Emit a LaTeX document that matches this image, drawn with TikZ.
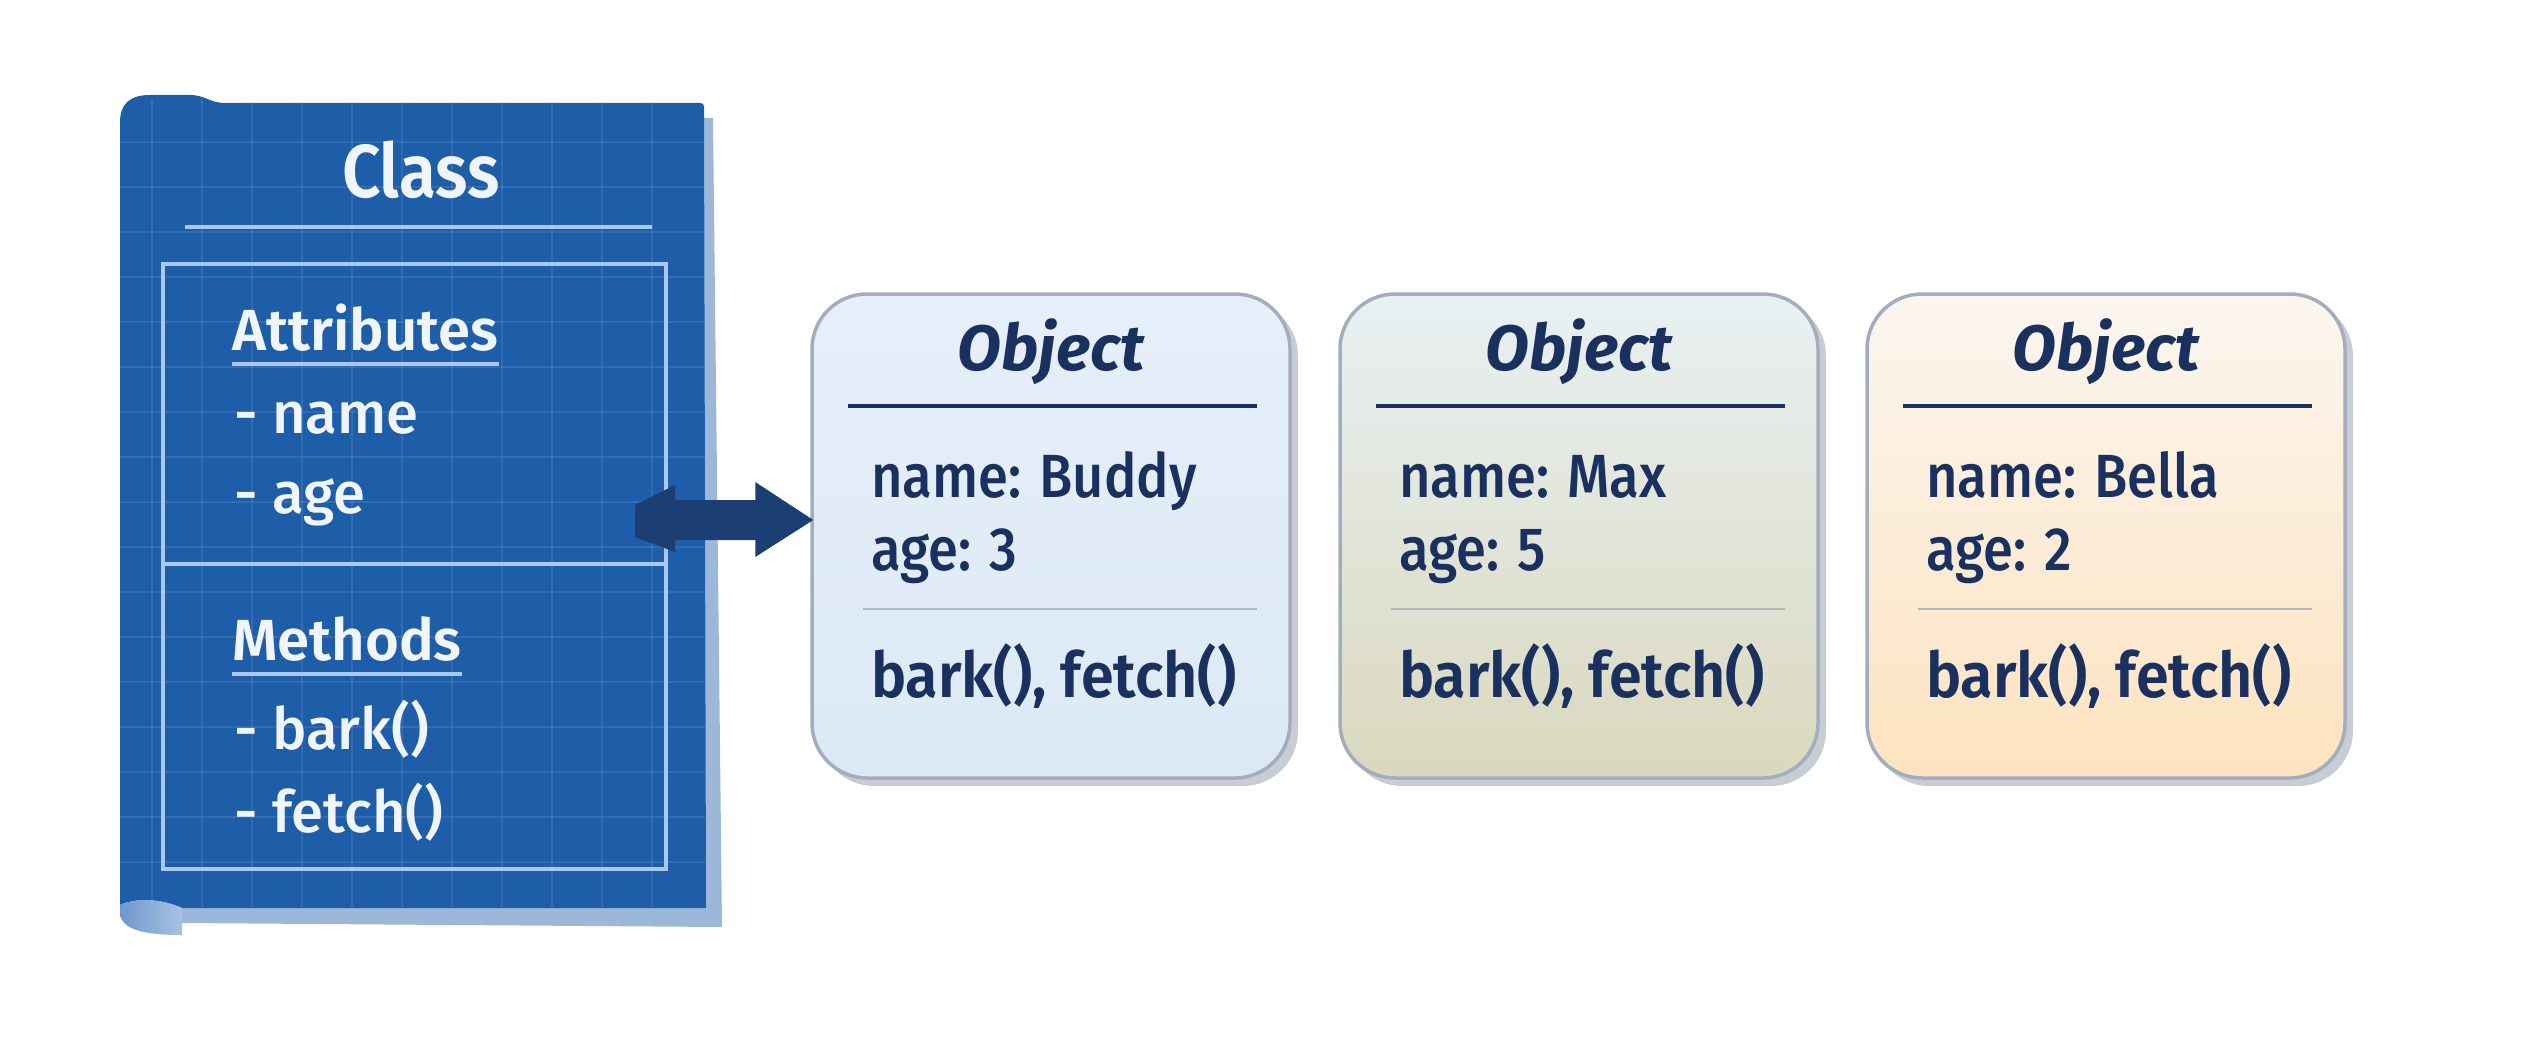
\documentclass[tikz,border=0pt]{standalone}
\usepackage{fontspec}
\setmainfont{Fira Sans}[UprightFont={* Medium}, BoldFont={* SemiBold}, ItalicFont={* Medium Italic}, BoldItalicFont={* Bold Italic}]
\usetikzlibrary{calc}
\definecolor{bp}{HTML}{1E5DA8}
\definecolor{bpback}{HTML}{9DB7D8}
\definecolor{bpline}{HTML}{A9C8EE}
\definecolor{bptext}{HTML}{F0F5FB}
\definecolor{curlL}{HTML}{6E98CC}
\definecolor{curlR}{HTML}{A7C2E2}
\definecolor{arrowc}{HTML}{1B3F73}
\definecolor{navy}{HTML}{1A3160}
\definecolor{objborder}{HTML}{A2AEBD}
\definecolor{shadowc}{HTML}{C9CDD3}
\definecolor{thinc}{HTML}{B0B8C2}
\definecolor{oAt}{HTML}{E6EFF9}
\definecolor{oAb}{HTML}{DCE9F5}
\definecolor{oBt}{HTML}{E8F0F2}
\definecolor{oBb}{HTML}{DAD8BE}
\definecolor{oCt}{HTML}{FBF6EF}
\definecolor{oCb}{HTML}{FDE3BF}
\tikzset{
  bptext/.style={text=bptext, inner sep=0pt},
  bpl/.style={draw=bpline, line width=4pt},
  gridl/.style={draw=white, opacity=0.09, line width=2pt},
  objshape/.style={draw=objborder, line width=3.5pt, rounded corners=55pt,
    minimum width=478pt, minimum height=484pt, inner sep=0pt},
  objtitle/.style={text=navy, inner sep=0pt, font=\fontsize{64}{70}\selectfont\bfseries\itshape},
  objtext/.style={text=navy, inner sep=0pt, font=\fontsize{61}{66}\selectfont},
  objmeth/.style={text=navy, inner sep=0pt, font=\fontsize{63}{68}\selectfont\bfseries},
  thickl/.style={draw=navy, line width=3.5pt},
  thinl/.style={draw=thinc, line width=2.5pt},
}
\newcommand\objbox[6]{%
\begin{scope}[shift={(#2,0)}]
\fill[shadowc, rounded corners=55pt] (7,301) rectangle (486,786);
\node[objshape, top color=#3, bottom color=#4] (#1) at (239,536) {};
\node[objtitle, anchor=base] (#1t) at (239,370) {Object};
\draw[thickl] (36,406) -- (445,406);
\node[objtext, anchor=base west] (#1n) at (59,497) {\scalebox{0.89}[1]{name: #5}};
\node[objtext, anchor=base west] (#1a) at (59,570) {\scalebox{0.89}[1]{age: #6}};
\draw[thinl] (51,609) -- (445,609);
\node[objmeth, anchor=base west] (#1m) at (59,697) {\scalebox{0.94}[1]{bark(), fetch()}};
\end{scope}}
\begin{document}
\begin{tikzpicture}[x=1pt,y=-1pt]
\fill[white] (0,0) rectangle (2528,1051);
\useasboundingbox (0,0) rectangle (2528,1051);
% back sheet
\fill[bpback] (150,118) -- (713,118) -- (722,927) -- (182,923) -- (182,912) -- (150,912) -- cycle;
% main sheet
\fill[bp] (120,905) -- (120,122) .. controls (120,104) and (130,95) .. (150,95)
  -- (190,95) .. controls (205,95) and (210,103) .. (225,103) -- (700,103)
  .. controls (703,103) and (704,104) .. (704,107) -- (706,908) -- (182,908)
  .. controls (160,898) and (135,898) .. (120,905) -- cycle;
% curl
\shade[left color=curlL, right color=curlR]
  (120,905) .. controls (135,898) and (160,898) .. (182,908) -- (182,935)
  .. controls (145,935) and (120,930) .. (120,912) -- cycle;
% grid
\begin{scope}
\clip (120,100) rectangle (705,906);
\foreach \x in {152,202,...,700} \draw[gridl] (\x,95) -- (\x,910);
\foreach \y in {142,187,...,900} \draw[gridl] (118,\y) -- (708,\y);
\end{scope}
% inner lines
\draw[bpl] (185,227) -- (652,227);
\draw[bpl] (163,264) rectangle (666,869);
\draw[bpl] (163,564) -- (666,564);
% texts
\node[bptext, anchor=base, font=\fontsize{75}{80}\selectfont\bfseries] (cls) at (421,198) {\scalebox{0.9}[1]{Class}};
\node[bptext, anchor=base west, font=\fontsize{58}{62}\selectfont\bfseries] (attr) at (232,350) {Attributes};
\draw[bpl] ($(attr.base west)+(0,14)$) -- ($(attr.base east)+(0,14)$);
\node[bptext, anchor=base west, font=\fontsize{58}{62}\selectfont] (aname) at (234,433) {- name};
\node[bptext, anchor=base west, font=\fontsize{58}{62}\selectfont] (aage) at (234,513) {- age};
\node[bptext, anchor=base west, font=\fontsize{58}{62}\selectfont\bfseries] (meth) at (232,660) {Methods};
\draw[bpl] ($(meth.base west)+(0,14)$) -- ($(meth.base east)+(0,14)$);
\node[bptext, anchor=base west, font=\fontsize{58}{62}\selectfont] (mbark) at (234,749) {- bark()};
\node[bptext, anchor=base west, font=\fontsize{58}{62}\selectfont] (mfetch) at (234,832) {- fetch()};
% objects
\objbox{obj1}{812}{oAt}{oAb}{Buddy}{3}
\objbox{obj2}{1340}{oBt}{oBb}{Max}{5}
\objbox{obj3}{1867}{oCt}{oCb}{Bella}{2}
% arrow
\coordinate (arrS) at (635,520);
\coordinate (arrE) at ($(obj1.west |- arrS)+(3,0)$);
\fill[arrowc] ($(arrS)+(0,-15)$) -- ($(arrS)+(40,-35)$) -- ($(arrS)+(40,-20)$)
  -- ($(arrE)+(-58,-20)$) -- ($(arrE)+(-58,-38)$) -- (arrE) -- ($(arrE)+(-58,37)$)
  -- ($(arrE)+(-58,20)$) -- ($(arrS)+(40,20)$) -- ($(arrS)+(40,32)$) -- ($(arrS)+(0,17)$) -- cycle;
\end{tikzpicture}
\end{document}
